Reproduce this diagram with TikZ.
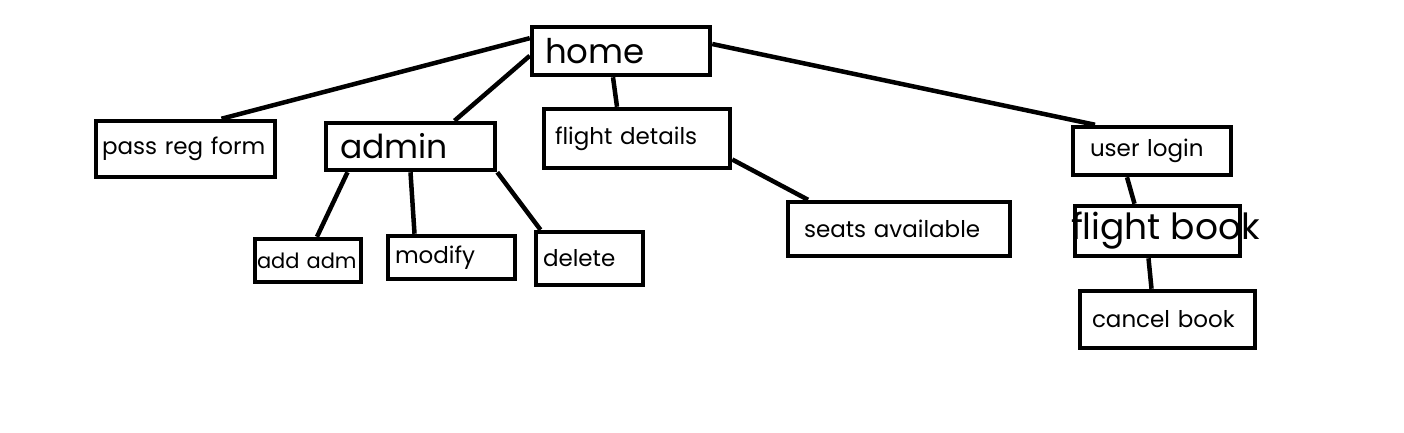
\documentclass[tikz,border=0pt]{standalone}
\usepackage{fontspec}
\setmainfont{Poppins}
\usepackage{tikz}
\usetikzlibrary{positioning,calc}

\begin{document}
\begin{tikzpicture}[
        x=1pt, y=-1pt,
        box/.style={rectangle, draw=black, line width=4.5pt, inner ysep=0pt, align=left, font=\fontsize{23}{26}\selectfont},
        bigbox/.style={box, font=\fontsize{34}{38}\selectfont},
        link/.style={draw, line width=4.5pt, color=black}
    ]
        \useasboundingbox (0,0) rectangle (1404,432);

        % Boxes
        \node[bigbox, inner xsep=13pt, text width=152pt, minimum height=48pt] (home) at (621,51) {home};
        \node[box, inner xsep=6pt, text width=167pt, minimum height=56pt] (passreg) at (185.5,149) {pass reg form};
        \node[bigbox, inner xsep=14pt, text width=141pt, minimum height=47pt, font=\fontsize{33}{36}\selectfont] (admin) at (410.5,146.5) {admin};
        \node[box, inner xsep=11pt, text width=164pt, minimum height=59pt] (fdetails) at (637,138.5) {flight details};
        \node[box, inner xsep=17pt, text width=124pt, minimum height=48pt] (ulogin) at (1152,151) {user login};
        \node[box, inner xsep=2pt, text width=102pt, minimum height=43pt, font=\fontsize{21}{24}\selectfont] (addadm) at (308,260.5) {add adm};
        \node[box, inner xsep=7pt, text width=113pt, minimum height=43pt] (modify) at (451.5,257.5) {modify};
        \node[box, inner xsep=7pt, text width=93pt, minimum height=53pt] (delete) at (589.5,258.5) {delete};
        \node[box, inner xsep=16pt, text width=190pt, minimum height=54pt] (seats) at (899,229) {seats available};
        \node[box, minimum width=165pt, minimum height=50pt, inner sep=0pt, font=\fontsize{36}{40}\selectfont] (fbook) at (1157.5,231) {\makebox[165pt][l]{\hspace{-4pt}flight book}};
        \node[box, inner xsep=12pt, text width=151pt, minimum height=57pt] (cancel) at (1167.5,319.5) {cancel book};

        % Links
        \draw[link] (home.172) -- ([xshift=36pt]passreg.north);
        \draw[link] (home.183) -- ([xshift=44pt]admin.north);
        \draw[link] ([xshift=-8pt]home.south) -- ([xshift=-20pt]fdetails.north);
        \draw[link] ([yshift=7pt]home.east) -- ([xshift=-57pt]ulogin.north);

        \draw[link] ([xshift=-63pt]admin.south) -- ([xshift=9pt]addadm.north);
        \draw[link] (admin.south) -- ([xshift=-37pt]modify.north);
        \draw[link] (admin.south east) -- ([xshift=-49pt]delete.north);

        \draw[link] ([yshift=-21pt]fdetails.east) -- ([xshift=-91pt]seats.north);

        \draw[link] ([xshift=-25pt]ulogin.south) -- ([xshift=-23pt]fbook.north);
        \draw[link] ([xshift=-9pt]fbook.south) -- ([xshift=-16pt]cancel.north);

    \end{tikzpicture}
\end{document}
